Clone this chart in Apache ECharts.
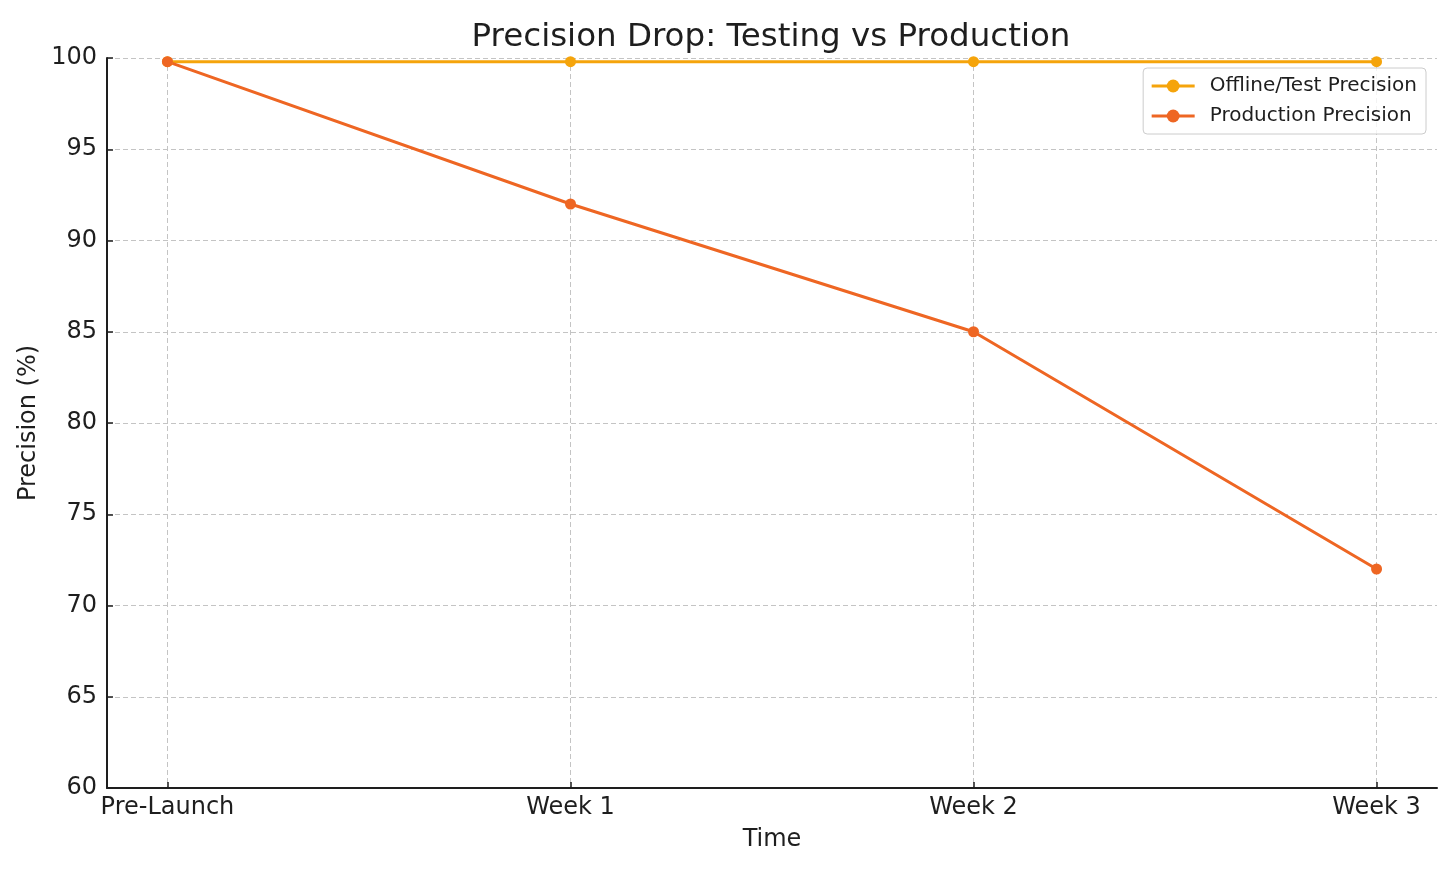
<!DOCTYPE html>
<html>
<head>
<meta charset="utf-8">
<script src="https://cdn.jsdelivr.net/npm/echarts@6/dist/echarts.min.js"></script>
<style>html,body{margin:0;padding:0;background:#fff}#c{width:1456px;height:874px}</style>
</head>
<body>
<div id="c"></div>
<script>
var categories = ['Pre-Launch', 'Week 1', 'Week 2', 'Week 3'];
var offlinePrecision = [99.8, 99.8, 99.8, 99.8];
var productionPrecision = [99.8, 92, 85, 72];
var yTicks = [60, 65, 70, 75, 80, 85, 90, 95, 100];

var idx = categories.map(function (c, i) { return i; });
function pairs(vals) { return vals.map(function (v, i) { return [i, v]; }); }

var font = 'DejaVu Sans';
var chart = echarts.init(document.getElementById('c'));
chart.setOption({
  animation: false,
  backgroundColor: '#fff',
  textStyle: { fontFamily: font },
  title: {
    text: 'Precision Drop: Testing vs Production',
    left: 766, top: 16, textAlign: 'center',
    textStyle: { fontFamily: font, fontSize: 32.5, fontWeight: 'normal', color: '#1e1e1e' }
  },
  legend: {
    orient: 'vertical', right: 30, top: 68,
    itemWidth: 43, itemHeight: 16, itemGap: 10,
    padding: [8, 9, 8, 7],
    borderColor: '#cccccc', borderWidth: 1, borderRadius: 4,
    backgroundColor: 'rgba(255,255,255,0.8)',
    lineStyle: { width: 3 },
    textStyle: { fontFamily: font, fontSize: 20, color: '#1e1e1e', padding: [0, 0, 0, 10] },
    data: ['Offline/Test Precision', 'Production Precision']
  },
  grid: { left: 107, right: 19, top: 58, bottom: 86, containLabel: false },
  xAxis: {
    type: 'value', min: -0.15, max: 3.15,
    name: 'Time', nameLocation: 'middle', nameGap: 40,
    nameTextStyle: { fontFamily: font, fontSize: 24, color: '#1e1e1e' },
    axisLine: { show: true, onZero: false, lineStyle: { color: '#1e1e1e', width: 2 } },
    axisTick: { show: true, inside: true, length: 6, customValues: idx, lineStyle: { color: '#1e1e1e', width: 1.5 } },
    axisLabel: {
      customValues: idx, margin: 8, fontFamily: font, fontSize: 24, color: '#1e1e1e',
      formatter: function (v) { return categories[Math.round(v)] || ''; }
    },
    splitLine: { show: true, lineStyle: { color: '#c4c4c4', type: [5, 3], width: 1 } }
  },
  yAxis: {
    type: 'value', min: 60, max: 100, interval: 5,
    name: 'Precision (%)', nameLocation: 'middle', nameGap: 62, nameRotate: 90,
    nameTextStyle: { fontFamily: font, fontSize: 24, color: '#1e1e1e' },
    axisLine: { show: true, onZero: false, lineStyle: { color: '#1e1e1e', width: 2 } },
    axisTick: { show: true, inside: true, length: 6, lineStyle: { color: '#1e1e1e', width: 1.5 } },
    axisLabel: { margin: 10, fontFamily: font, fontSize: 24, color: '#1e1e1e' },
    splitLine: { show: true, lineStyle: { color: '#c4c4c4', type: [5, 3], width: 1 } }
  },
  series: [
    {
      name: 'Offline/Test Precision', type: 'line',
      data: pairs(offlinePrecision),
      symbol: 'circle', symbolSize: 11,
      lineStyle: { color: '#F5A40B', width: 3 },
      itemStyle: { color: '#F5A40B' }
    },
    {
      name: 'Production Precision', type: 'line',
      data: pairs(productionPrecision),
      symbol: 'circle', symbolSize: 11,
      lineStyle: { color: '#EE6623', width: 3 },
      itemStyle: { color: '#EE6623' }
    }
  ]
});
</script>
</body>
</html>
